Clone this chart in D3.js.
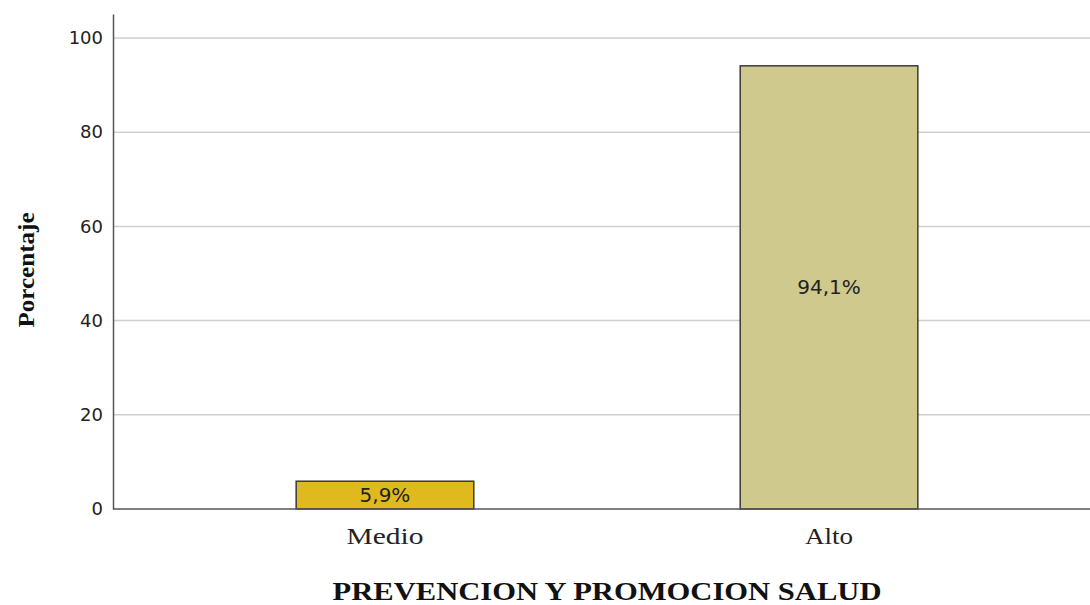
<!DOCTYPE html>
<html>
<head>
<meta charset="utf-8">
<script src="https://cdn.jsdelivr.net/npm/d3@7"></script>
<style>
  body { margin: 0; background: #fff; }
</style>
</head>
<body>
<script>
const categories = ["Medio", "Alto"];
const percentages = [5.9, 94.1];
const barColors = ["#e0b91f", "#cfc98d"];
const yTicks = [0, 20, 40, 60, 80, 100];

let w = 1090,
    h = 605;

let mLeft = 113, mRight = 1101, mTop = 14, mBottom = 509;

let svg = d3.select("body").append("svg")
    .attr("width", w)
    .attr("height", h);

let x = d3.scalePoint()
    .domain(categories)
    .range([mLeft, mRight])
    .padding(0.6125);

let y = d3.scaleLinear()
    .domain([0, 105.1])
    .range([mBottom, mTop]);

let barW = x.step() * 0.4;

// gridlines
svg.append("g")
    .selectAll("line")
    .data(yTicks.filter(d => d > 0))
    .enter().append("line")
    .attr("x1", mLeft)
    .attr("x2", w)
    .attr("y1", d => y(d))
    .attr("y2", d => y(d))
    .attr("stroke", "#cfcfcf")
    .attr("stroke-width", 1.5);

// y axis
let yAxis = svg.append("g")
    .attr("transform", "translate(" + mLeft + ",0)")
    .call(d3.axisLeft(y).tickValues(yTicks).tickSize(0).tickPadding(10));
yAxis.select(".domain").attr("stroke", "#555").attr("stroke-width", 1.5);
yAxis.selectAll("text")
    .attr("font-family", "DejaVu Sans, sans-serif")
    .attr("font-size", 18)
    .attr("fill", "#222");

// bars
svg.append("g")
    .selectAll("rect")
    .data(categories)
    .enter().append("rect")
    .attr("x", d => x(d) - barW / 2)
    .attr("width", barW)
    .attr("y", (d, i) => y(percentages[i]))
    .attr("height", (d, i) => y(0) - y(percentages[i]))
    .attr("fill", (d, i) => barColors[i])
    .attr("stroke", "#3a3a3a")
    .attr("stroke-width", 1.5);

// x axis baseline
svg.append("line")
    .attr("x1", mLeft)
    .attr("x2", w)
    .attr("y1", y(0))
    .attr("y2", y(0))
    .attr("stroke", "#555")
    .attr("stroke-width", 1.5);

// value labels
svg.append("g")
    .selectAll("text")
    .data(categories)
    .enter().append("text")
    .attr("x", d => x(d))
    .attr("y", (d, i) => (y(percentages[i]) + y(0)) / 2)
    .attr("dy", "0.35em")
    .attr("text-anchor", "middle")
    .attr("font-family", "DejaVu Sans, sans-serif")
    .attr("font-size", 20)
    .attr("fill", "#222")
    .text((d, i) => String(percentages[i]).replace(".", ",") + "%");

// category labels
const catWidths = [77, 48];
svg.append("g")
    .selectAll("text")
    .data(categories)
    .enter().append("text")
    .attr("x", d => x(d))
    .attr("y", 544)
    .attr("text-anchor", "middle")
    .attr("font-family", "Liberation Serif, serif")
    .attr("font-size", 24)
    .attr("textLength", (d, i) => catWidths[i])
    .attr("lengthAdjust", "spacingAndGlyphs")
    .attr("fill", "#222")
    .text(d => d);

// axis titles
svg.append("text")
    .attr("x", 607)
    .attr("y", 600)
    .attr("text-anchor", "middle")
    .attr("font-family", "Liberation Serif, serif")
    .attr("font-weight", "bold")
    .attr("font-size", 25)
    .attr("textLength", 549)
    .attr("lengthAdjust", "spacingAndGlyphs")
    .attr("fill", "#111")
    .text("PREVENCION Y PROMOCION SALUD");

svg.append("text")
    .attr("transform", "translate(34,270) rotate(-90)")
    .attr("text-anchor", "middle")
    .attr("font-family", "Liberation Serif, serif")
    .attr("font-weight", "bold")
    .attr("font-size", 24)
    .attr("textLength", 115)
    .attr("lengthAdjust", "spacingAndGlyphs")
    .attr("fill", "#111")
    .text("Porcentaje");
</script>
</body>
</html>
